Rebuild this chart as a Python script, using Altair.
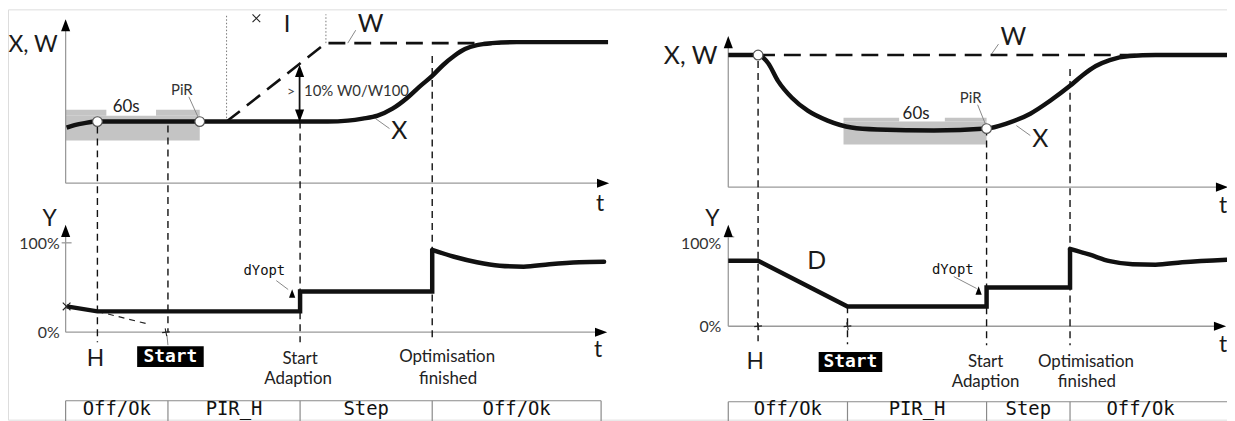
import altair as alt
import pandas as pd

# ---------------- data (t = time units from the panel origin, lv = units above the time axis)
# left panel : X (actual value) and W (setpoint) in the upper plot, Y (output) in the lower plot
L_X_t = [1, 9, 19, 32, 135, 234, 264, 284, 299, 314, 329, 344, 356, 369, 380, 391, 402, 414, 429, 454, 546]
L_X_lv = [56, 58.5, 60.5, 62, 62, 62, 62, 63, 65, 68, 75, 86, 97, 108, 119, 128, 135, 139, 141, 142, 142]
L_W_t = [162, 262, 440]
L_W_lv = [62, 141, 141]
L_Y_t = [1, 32, 236, 236, 369, 369]
L_Y_lv = [26, 21, 21, 41, 41, 83]
L_Yd_t = [369, 391, 414, 437, 461, 487, 517, 542]
L_Yd_lv = [83, 76, 70.5, 67, 66, 68.5, 70.5, 71]
L_EVENTS = {"H": 32, "Start": 103, "PiR": 135, "Adapt": 236, "Opt": 369}

# right panel
R_X_t = [0, 30, 40, 50, 64, 80, 100, 124, 150, 207, 260, 280, 304, 324, 344, 357, 370, 384, 404, 430, 502]
R_X_lv = [133, 133, 125, 107, 90, 77, 67, 60, 58, 57, 59, 64, 74, 87, 102, 113, 122, 128, 132, 133, 133]
R_W_t = [30, 410]
R_W_lv = [133, 133]
R_Y_t = [0, 30, 120, 260, 260, 344, 344]
R_Y_lv = [66, 66, 20, 20, 39, 39, 78]
R_Yd_t = [344, 364, 384, 407, 430, 457, 502]
R_Yd_lv = [78, 72, 65.5, 62.5, 62, 64.5, 67]
R_EVENTS = {"H": 30, "Start": 120, "PiR": 260, "Adapt": 260, "Opt": 344}

STATES = ["Off/Ok", "PIR_H", "Step", "Off/Ok"]

# ---------------- layout (page placement of each panel)
PANELS = {
    "L": dict(x0=66, top=183, bot=333, t_end=541, top_h=165, bot_h=108, table=402, right=605, text_end=605),
    "R": dict(x0=733, top=187, bot=327, t_end=497, top_h=152, bot_h=102, table=403, right=1240, text_end=1219),
}
TABLE_TEXT_Y = 410.5


def P(p, t, lv, plot="top"):
    d = PANELS[p]
    return d["x0"] + t, d[plot] - lv


def line_df(p, ts, lvs, plot="top"):
    rows = []
    for i, (t, lv) in enumerate(zip(ts, lvs)):
        x, y = P(p, t, lv, plot)
        rows.append(dict(x=x, y=y, o=i))
    return pd.DataFrame(rows)


def seg(p, t1, l1, t2, l2, plot1="top", plot2=None):
    plot2 = plot2 or plot1
    x, y = P(p, t1, l1, plot1)
    x2, y2 = P(p, t2, l2, plot2)
    return dict(x=x, y=y, x2=x2, y2=y2)


XS = alt.Scale(domain=[8, 1235])
YS = alt.Scale(domain=[8, 421], reverse=True)
ex = alt.X("x:Q", scale=XS, axis=None)
ey = alt.Y("y:Q", scale=YS, axis=None)

layers = []

# gray 60 s windows
box = []
for p, t0, t1, n0, n1, lo, hi, tab in [("L", 0, 135, 41, 91, 43, 68, 74), ("R", 116, 260, 172, 218, 43, 66, 70)]:
    box.append(seg(p, t0, lo, t1, hi))
    box.append(seg(p, t0, hi, n0, tab))
    box.append(seg(p, n1, hi, t1, tab))
layers.append(alt.Chart(pd.DataFrame(box)).mark_rect(color="#c4c4c4").encode(
    x=ex, y=ey, x2="x2:Q", y2="y2:Q"))

# axes (thin gray lines)
ax = []
for p in "LR":
    d = PANELS[p]
    ax.append(seg(p, 0, 0, 0, d["top_h"] - 8))
    ax.append(seg(p, 0, 0, d["t_end"] - 5, 0))
    ax.append(seg(p, 0, 0, 0, d["bot_h"] - 8, "bot"))
    ax.append(seg(p, 0, 0, d["t_end"] - 7, 0, "bot"))
    ax.append(seg(p, -4, 90, 6, 90, "bot"))
layers.append(alt.Chart(pd.DataFrame(ax)).mark_rule(color="#9a9a9a", strokeWidth=1.3).encode(
    x=ex, y=ey, x2="x2:Q", y2="y2:Q"))

# status tables
tb = []
for p, ev in [("L", L_EVENTS), ("R", R_EVENTS)]:
    d = PANELS[p]
    x0 = d["x0"]
    tb.append(dict(x=x0, y=d["table"], x2=d["right"], y2=d["table"]))
    for xx in [x0, x0 + ev["Start"], x0 + ev["Adapt"], x0 + ev["Opt"], d["right"]]:
        tb.append(dict(x=xx, y=d["table"], x2=xx, y2=425))
layers.append(alt.Chart(pd.DataFrame(tb)).mark_rule(color="#8a8a8a", strokeWidth=1.2).encode(
    x=ex, y=ey, x2="x2:Q", y2="y2:Q"))

# thin dotted helper verticals
dot = [seg("L", 162, 62, 162, 170), seg("L", 262, 141, 262, 170)]
layers.append(alt.Chart(pd.DataFrame(dot)).mark_rule(color="#777", strokeWidth=1, strokeDash=[1.5, 2]).encode(
    x=ex, y=ey, x2="x2:Q", y2="y2:Q"))

# dashed event verticals
evl = [
    seg("L", 32, 57, 32, -10, "top", "bot"),
    seg("L", 103, 58, 103, 0, "top", "bot"),
    seg("L", 236, 62, 236, -10, "top", "bot"),
    seg("L", 369, 128, 369, -10, "top", "bot"),
    seg("R", 30, 127, 30, -15, "top", "bot"),
    seg("R", 120, 20, 120, -18, "bot"),
    seg("R", 260, 59, 260, -19, "top", "bot"),
    seg("R", 344, 119, 344, -19, "top", "bot"),
]
layers.append(alt.Chart(pd.DataFrame(evl)).mark_rule(color="#111", strokeWidth=1.4, strokeDash=[7, 5]).encode(
    x=ex, y=ey, x2="x2:Q", y2="y2:Q"))

# thin dashed extrapolation (left Y)
layers.append(alt.Chart(pd.DataFrame([seg("L", 32, 21, 84, 8, "bot")])).mark_rule(
    color="#222", strokeWidth=1.2, strokeDash=[6, 5]).encode(x=ex, y=ey, x2="x2:Q", y2="y2:Q"))

# leader lines
lead = [
    seg("L", 124, 87, 134, 65), seg("L", 292, 154, 284, 141), seg("L", 312, 65, 326, 55),
    seg("L", 212, 52, 224, 43, "bot"), seg("L", 102, -3, 103, -13, "bot"),
    seg("R", 251, 83, 259, 63), seg("R", 272, 144, 265, 134), seg("R", 290, 62, 304, 52),
    seg("R", 227, 50, 250, 38, "bot"),
]
layers.append(alt.Chart(pd.DataFrame(lead)).mark_rule(color="#888", strokeWidth=1).encode(
    x=ex, y=ey, x2="x2:Q", y2="y2:Q"))

# double arrow  > 10 %
layers.append(alt.Chart(pd.DataFrame([seg("L", 235.5, 116, 235.5, 64)])).mark_rule(
    color="#111", strokeWidth=1.8).encode(x=ex, y=ey, x2="x2:Q", y2="y2:Q"))

# setpoint W (dashed)
for p, ts, lv in [("L", L_W_t, L_W_lv), ("R", R_W_t, R_W_lv)]:
    layers.append(alt.Chart(line_df(p, ts, lv)).mark_line(
        color="#111", strokeWidth=2.6, strokeDash=[17, 9]).encode(x=ex, y=ey, order="o:Q"))

# X curves
for p, ts, lv in [("L", L_X_t, L_X_lv), ("R", R_X_t, R_X_lv)]:
    layers.append(alt.Chart(line_df(p, ts, lv)).mark_line(
        color="#111", strokeWidth=4.5, interpolate="monotone").encode(x=ex, y=ey, order="o:Q"))

# Y curves
for p, ts, lv, tsd, lvd in [("L", L_Y_t, L_Y_lv, L_Yd_t, L_Yd_lv), ("R", R_Y_t, R_Y_lv, R_Yd_t, R_Yd_lv)]:
    layers.append(alt.Chart(line_df(p, ts, lv, "bot")).mark_line(
        color="#111", strokeWidth=4.5).encode(x=ex, y=ey, order="o:Q"))
    layers.append(alt.Chart(line_df(p, tsd, lvd, "bot")).mark_line(
        color="#111", strokeWidth=4.5, interpolate="monotone", strokeCap="round").encode(x=ex, y=ey, order="o:Q"))

# arrow heads
UP = "M0,-1L-0.75,1L0.75,1Z"
DOWN = "M0,1L-0.75,-1L0.75,-1Z"
RIGHT = "M1,0L-1,-0.75L-1,0.75Z"
heads = []
for p in "LR":
    d = PANELS[p]
    for plot, h in [("top", d["top_h"]), ("bot", d["bot_h"])]:
        x, y = P(p, 0, h - 6, plot)
        heads.append(dict(x=x, y=y, s=UP))
        x, y = P(p, d["t_end"] + (0 if plot == "top" else -2), 0, plot)
        heads.append(dict(x=x, y=y, s=RIGHT))
x, y = P("L", 235.5, 113); heads.append(dict(x=x, y=y, s=UP))
x, y = P("L", 235.5, 68); heads.append(dict(x=x, y=y, s=DOWN))
hd = pd.DataFrame(heads)
layers.append(alt.Chart(hd).mark_point(filled=True, color="#000", size=150, opacity=1).encode(
    x=ex, y=ey, shape=alt.Shape("s:N", scale=None)))
# small dYopt triangles
sm = []
for p, t, lv in [("L", 228, 39), ("R", 252, 36)]:
    x, y = P(p, t, lv, "bot")
    sm.append(dict(x=x, y=y))
layers.append(alt.Chart(pd.DataFrame(sm)).mark_point(filled=True, color="#000", size=70, opacity=1,
                                                     shape=UP).encode(x=ex, y=ey))

# crosses
cr = []
for p, t, lv, plot, s in [("L", 1, 26, "bot", "x"), ("L", 101, 0, "bot", "+"), ("R", 30, 0, "bot", "+"),
                          ("R", 120, 0, "bot", "+"), ("L", 192, 166, "top", "x")]:
    x, y = P(p, t, lv, plot)
    cr.append(dict(x=x, y=y, s="M-1,-1L1,1M-1,1L1,-1" if s == "x" else "M-0.2,-1L0.2,1M-1,0.1L1,-0.1"))
layers.append(alt.Chart(pd.DataFrame(cr)).mark_point(filled=False, color="#222", size=60, strokeWidth=1.1,
                                                     opacity=1).encode(
    x=ex, y=ey, shape=alt.Shape("s:N", scale=None)))

# marker circles
ci = []
for p, t, lv in [("L", 32, 62), ("L", 135, 62), ("R", 30, 133), ("R", 260, 59)]:
    x, y = P(p, t, lv)
    ci.append(dict(x=x, y=y))
layers.append(alt.Chart(pd.DataFrame(ci)).mark_point(filled=True, fill="white", stroke="#555", strokeWidth=1.2,
                                                     size=95, opacity=1, shape="circle").encode(x=ex, y=ey))

# black "Start" boxes
sb = [dict(x=138, y=347, x2=205, y2=368), dict(x=824, y=353, x2=888, y2=373)]
layers.append(alt.Chart(pd.DataFrame(sb)).mark_rect(color="#000").encode(x=ex, y=ey, x2="x2:Q", y2="y2:Q"))

# ---------------- texts
SANS = "Lato"
MONO = "DejaVu Sans Mono"
txt = [
    # text, x, y, size, align, color
    ("X, W", 58, 44, 23, "right", "#1a1a1a"), ("X, W", 722, 55, 25, "right", "#1a1a1a"),
    ("Y", 50, 219, 23, "center", "#1a1a1a"), ("Y", 717, 219, 23, "center", "#1a1a1a"),
    ("100%", 60, 244, 16, "right", "#333"), ("100%", 726, 244, 16, "right", "#333"),
    ("0%", 60, 334, 16, "right", "#333"), ("0%", 726, 328, 16, "right", "#333"),
    ("t", 604, 204, 23, "center", "#1a1a1a"), ("t", 602, 351, 23, "center", "#1a1a1a"),
    ("t", 1231, 206, 23, "center", "#1a1a1a"), ("t", 1231, 346, 23, "center", "#1a1a1a"),
    ("I", 289, 24, 24, "center", "#1a1a1a"),
    ("W", 373, 23, 25, "center", "#1a1a1a"), ("W", 1020, 36, 25, "center", "#1a1a1a"),
    ("X", 402, 131, 25, "center", "#1a1a1a"), ("X", 1047, 139, 25, "center", "#1a1a1a"),
    (">", 293, 91, 14, "center", "#444"), ("10% W0/W100", 306, 90, 15, "left", "#333"),
    ("60s", 127, 106, 17, "center", "#222"), ("60s", 922, 113, 17, "center", "#222"),
    ("PiR", 183, 89, 15, "center", "#333"), ("PiR", 977, 97, 15, "center", "#333"),
    ("H", 96, 360, 23, "center", "#1a1a1a"), ("H", 760, 363, 23, "center", "#1a1a1a"),
    ("D", 822, 261, 25, "center", "#1a1a1a"),
    ("Start", 302, 360, 17, "center", "#222"), ("Adaption", 300, 380, 17, "center", "#222"),
    ("Start", 992, 363, 17, "center", "#222"), ("Adaption", 992, 383, 17, "center", "#222"),
    ("Optimisation", 450, 358, 17, "center", "#222"), ("finished", 451, 380, 17, "center", "#222"),
    ("Optimisation", 1093, 363, 17, "center", "#222"), ("finished", 1094, 383, 17, "center", "#222"),
]
tdf = pd.DataFrame(txt, columns=["text", "x", "y", "fs", "align", "c"])
for al in ["left", "center", "right"]:
    sub = tdf[tdf["align"] == al]
    layers.append(alt.Chart(sub).mark_text(font=SANS, align=al, baseline="middle").encode(
        x=ex, y=ey, text="text:N", size=alt.Size("fs:Q", scale=None), color=alt.Color("c:N", scale=None)))

mono = [("dYopt", 266, 271, 14, "#111"), ("dYopt", 959, 270, 14, "#111")]
for p, ev in [("L", L_EVENTS), ("R", R_EVENTS)]:
    d = PANELS[p]
    edges = [d["x0"], d["x0"] + ev["Start"], d["x0"] + ev["Adapt"], d["x0"] + ev["Opt"], d["text_end"]]
    for i, s in enumerate(STATES):
        mono.append((s, (edges[i] + edges[i + 1]) / 2, TABLE_TEXT_Y, 19, "#111"))
mdf = pd.DataFrame(mono, columns=["text", "x", "y", "fs", "c"])
layers.append(alt.Chart(mdf).mark_text(font=MONO, align="center", baseline="middle").encode(
    x=ex, y=ey, text="text:N", size=alt.Size("fs:Q", scale=None), color=alt.Color("c:N", scale=None)))

st = pd.DataFrame([("Start", 171.5, 358), ("Start", 856, 363)], columns=["text", "x", "y"])
layers.append(alt.Chart(st).mark_text(font=MONO, fontWeight="bold", fontSize=18, color="white",
                                      align="center", baseline="middle").encode(x=ex, y=ey, text="text:N"))

chart = alt.layer(*layers).properties(
    width=1227, height=413, padding=0, autosize=alt.AutoSizeParams(type="none")
).configure_view(stroke=None).configure(background="white")

chart.save("out.html", embed_options={"renderer": "svg", "actions": False})
